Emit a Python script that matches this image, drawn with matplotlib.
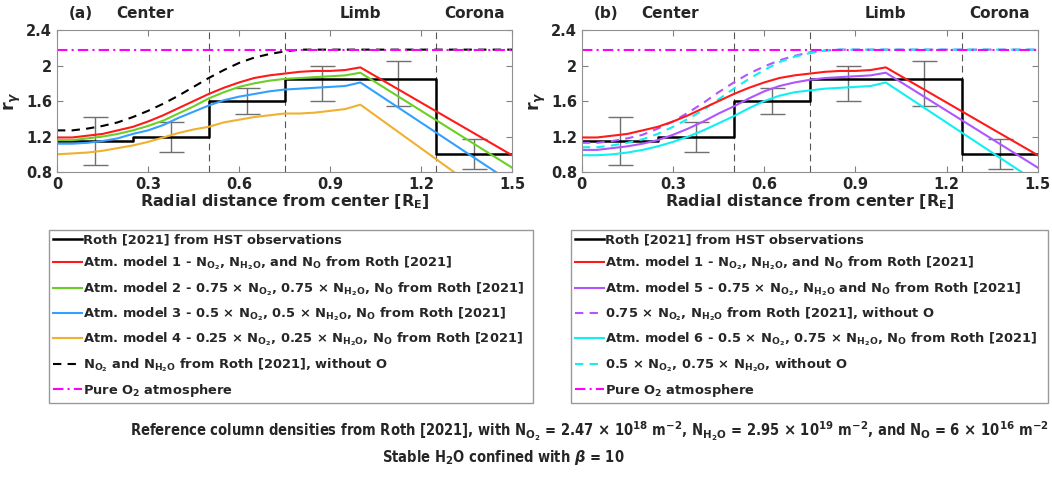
import matplotlib
matplotlib.use('Agg')
import matplotlib.pyplot as plt

plt.rcParams['font.family'] = ['DejaVu Sans']
plt.rcParams['font.weight'] = 'bold'
plt.rcParams['axes.labelweight'] = 'bold'
plt.rcParams['mathtext.default'] = 'bf'

# Данные: радиальное расстояние и r_gamma
x = [0, 0.05, 0.1, 0.15, 0.2, 0.25, 0.3, 0.35, 0.4, 0.45, 0.5,
     0.55, 0.6, 0.65, 0.7, 0.75, 0.8, 0.85, 0.9, 0.95, 1.0, 1.5]
model1 = [1.19, 1.19, 1.21, 1.23, 1.27, 1.31, 1.37, 1.44, 1.52, 1.60, 1.68,
          1.75, 1.81, 1.86, 1.89, 1.91, 1.93, 1.94, 1.94, 1.95, 1.98, 0.99]
model2 = [1.16, 1.16, 1.18, 1.20, 1.23, 1.27, 1.32, 1.38, 1.46, 1.54, 1.63,
          1.70, 1.76, 1.80, 1.83, 1.85, 1.86, 1.87, 1.88, 1.89, 1.92, 0.85]
model3 = [1.12, 1.12, 1.13, 1.15, 1.18, 1.23, 1.27, 1.33, 1.41, 1.48, 1.55,
          1.61, 1.65, 1.68, 1.71, 1.73, 1.74, 1.75, 1.76, 1.77, 1.81, 0.68]
model4 = [1.00, 1.01, 1.02, 1.04, 1.07, 1.10, 1.14, 1.19, 1.24, 1.28, 1.31,
          1.36, 1.39, 1.42, 1.44, 1.46, 1.46, 1.47, 1.49, 1.51, 1.56, 0.33]
model5 = [1.05, 1.05, 1.07, 1.09, 1.12, 1.16, 1.22, 1.29, 1.37, 1.46, 1.54,
          1.63, 1.71, 1.77, 1.81, 1.84, 1.86, 1.87, 1.88, 1.89, 1.92, 0.85]
model6 = [0.99, 0.99, 1.00, 1.02, 1.05, 1.09, 1.14, 1.20, 1.27, 1.35, 1.43,
          1.52, 1.60, 1.66, 1.70, 1.72, 1.74, 1.75, 1.76, 1.77, 1.81, 0.68]

x_noO = [0, 0.05, 0.1, 0.15, 0.2, 0.25, 0.3, 0.35, 0.4, 0.45, 0.5,
         0.55, 0.6, 0.65, 0.7, 0.75, 0.8, 0.85, 1.5]
noO_1 = [1.27, 1.27, 1.29, 1.32, 1.36, 1.42, 1.49, 1.57, 1.66, 1.76, 1.86,
         1.95, 2.03, 2.09, 2.13, 2.16, 2.18, 2.18, 2.18]
noO_5 = [1.13, 1.13, 1.15, 1.18, 1.22, 1.29, 1.37, 1.47, 1.58, 1.70, 1.81,
         1.91, 1.99, 2.06, 2.11, 2.15, 2.17, 2.18, 2.18]
noO_6 = [1.08, 1.08, 1.10, 1.13, 1.17, 1.23, 1.31, 1.40, 1.50, 1.62, 1.74,
         1.85, 1.95, 2.04, 2.10, 2.14, 2.17, 2.18, 2.18]

pure_o2 = 2.18

# Наблюдения Roth [2021]
roth_edges = [0, 0.25, 0.5, 0.75, 1.25, 1.5]
roth_vals = [1.15, 1.2, 1.6, 1.85, 1.0]
err_x = [0.125, 0.375, 0.625, 0.875, 1.125, 1.375]
err_lo = [0.88, 1.03, 1.45, 1.60, 1.55, 0.83]
err_hi = [1.42, 1.37, 1.75, 2.00, 2.05, 1.17]

xticks = [0, 0.3, 0.6, 0.9, 1.2, 1.5]
xticklabels = ['0', '0.3', '0.6', '0.9', '1.2', '1.5']
yticks = [0.8, 1.2, 1.6, 2.0, 2.4]
yticklabels = ['0.8', '1.2', '1.6', '2', '2.4']

c_red = '#ff1a1a'
c_green = '#6ccf25'
c_blue = '#33a0ff'
c_orange = '#f0b030'
c_purple = '#b055ff'
c_cyan = '#10f0f0'
c_mag = '#ff00ff'


def roth_step(ax):
    xs, ys = [], []
    for i, v in enumerate(roth_vals):
        xs += [roth_edges[i], roth_edges[i + 1]]
        ys += [v, v]
    return ax.plot(xs, ys, color='k', lw=1.8, label='Roth [2021] from HST observations')[0]


def setup(ax, tag):
    for xv in [0.5, 0.75, 1.25]:
        ax.axvline(xv, color='#555555', ls=(0, (6, 4)), lw=0.8, zorder=1)
    mid = [(lo + hi) / 2 for lo, hi in zip(err_lo, err_hi)]
    half = [(hi - lo) / 2 for lo, hi in zip(err_lo, err_hi)]
    ax.errorbar(err_x, mid, yerr=half, fmt='none', ecolor='#707070',
                elinewidth=1.0, capsize=9, capthick=1.0, zorder=2)
    ax.set_xlim(0, 1.5)
    ax.set_ylim(0.8, 2.4)
    ax.set_xticks(xticks)
    ax.set_xticklabels(xticklabels)
    ax.set_yticks(yticks)
    ax.set_yticklabels(yticklabels)
    ax.tick_params(direction='in', top=True, right=True, labelsize=10.5,
                   colors='#808080', labelcolor='#262626', length=4)
    for s in ax.spines.values():
        s.set_color('#909090')
    ax.set_xlabel('Radial distance from center [R$_E$]', fontsize=11.4,
                  color='#262626', labelpad=0)
    ax.set_ylabel(r'r$_{\mathit{\gamma}}$', fontsize=12.5, color='#262626', labelpad=2)
    ax.text(0.08, 2.59, tag, fontsize=11, ha='center', va='center', color='#262626')
    ax.text(0.29, 2.59, 'Center', fontsize=11, ha='center', va='center', color='#262626')
    ax.text(1.0, 2.59, 'Limb', fontsize=11, ha='center', va='center', color='#262626')
    ax.text(1.375, 2.59, 'Corona', fontsize=11, ha='center', va='center', color='#262626')


fig = plt.figure(figsize=(10.52, 4.78), dpi=100)
axa = fig.add_axes([0.0542, 0.640, 0.4325, 0.297])
axb = fig.add_axes([0.553, 0.640, 0.4335, 0.297])

# (a)
setup(axa, '(a)')
ha = [roth_step(axa)]
ha += axa.plot(x, model1, color=c_red, lw=1.5,
               label='Atm. model 1 - N$_{O_2}$, N$_{H_2O}$, and N$_O$ from Roth [2021]')
ha += axa.plot(x, model2, color=c_green, lw=1.5,
               label=r'Atm. model 2 - 0.75 $\times$ N$_{O_2}$, 0.75 $\times$ N$_{H_2O}$, N$_O$ from Roth [2021]')
ha += axa.plot(x, model3, color=c_blue, lw=1.5,
               label=r'Atm. model 3 - 0.5 $\times$ N$_{O_2}$, 0.5 $\times$ N$_{H_2O}$, N$_O$ from Roth [2021]')
ha += axa.plot(x, model4, color=c_orange, lw=1.5,
               label=r'Atm. model 4 - 0.25 $\times$ N$_{O_2}$, 0.25 $\times$ N$_{H_2O}$, N$_O$ from Roth [2021]')
ha += axa.plot(x_noO, noO_1, color='k', lw=1.5, ls=(0, (4, 3)),
               label='N$_{O_2}$ and N$_{H_2O}$ from Roth [2021], without O')
ha += [axa.axhline(pure_o2, color=c_mag, lw=1.5, ls=(0, (5, 2, 1, 2)),
                   label='Pure O$_2$ atmosphere')]

# (b)
setup(axb, '(b)')
hb = [roth_step(axb)]
hb += axb.plot(x, model1, color=c_red, lw=1.5,
               label='Atm. model 1 - N$_{O_2}$, N$_{H_2O}$, and N$_O$ from Roth [2021]')
hb += axb.plot(x, model5, color=c_purple, lw=1.5,
               label=r'Atm. model 5 - 0.75 $\times$ N$_{O_2}$, N$_{H_2O}$ and N$_O$ from Roth [2021]')
hb += axb.plot(x_noO, noO_5, color=c_purple, lw=1.5, ls=(0, (4, 3)),
               label=r'0.75 $\times$ N$_{O_2}$, N$_{H_2O}$ from Roth [2021], without O')
hb += axb.plot(x, model6, color=c_cyan, lw=1.5,
               label=r'Atm. model 6 - 0.5 $\times$ N$_{O_2}$, 0.75 $\times$ N$_{H_2O}$, N$_O$ from Roth [2021]')
hb += axb.plot(x_noO, noO_6, color=c_cyan, lw=1.5, ls=(0, (4, 3)),
               label=r'0.5 $\times$ N$_{O_2}$, 0.75 $\times$ N$_{H_2O}$, without O')
hb += [axb.axhline(pure_o2, color=c_mag, lw=1.5, ls=(0, (5, 2, 1, 2)),
                   label='Pure O$_2$ atmosphere')]
# красная линия поверх
for ax in (axa, axb):
    for ln in ax.get_lines():
        if ln.get_color() == c_red:
            ln.set_zorder(5)

leg_kw = dict(loc='upper left', mode='expand', fontsize=9.4, frameon=True,
              fancybox=False, edgecolor='#999999', framealpha=1,
              handlelength=2.2, handletextpad=0.1, labelspacing=0.6,
              borderpad=0.3, borderaxespad=0)
la = fig.legend(handles=ha, bbox_to_anchor=(0.0466, 0.519, 0.460, 0.0), **leg_kw)
lb = fig.legend(handles=hb, bbox_to_anchor=(0.543, 0.519, 0.453, 0.0), **leg_kw)
for lg in (la, lb):
    lg.get_frame().set_linewidth(1.0)
    for t in lg.get_texts():
        t.set_color('#262626')

fig.text(0.56, 0.098,
         r'Reference column densities from Roth [2021], with N$_{O_2}$ = 2.47 $\times$ 10$^{18}$ m$^{-2}$, '
         r'N$_{H_2O}$ = 2.95 $\times$ 10$^{19}$ m$^{-2}$, and N$_O$ = 6 $\times$ 10$^{16}$ m$^{-2}$',
         ha='center', va='center', fontsize=10.5, fontstretch='condensed', color='#262626')
fig.text(0.478, 0.042, r'Stable H$_2$O confined with $\mathit{\beta}$ = 10',
         ha='center', va='center', fontsize=10.5, fontstretch='condensed', color='#262626')

fig.savefig('out.png', dpi=100)
